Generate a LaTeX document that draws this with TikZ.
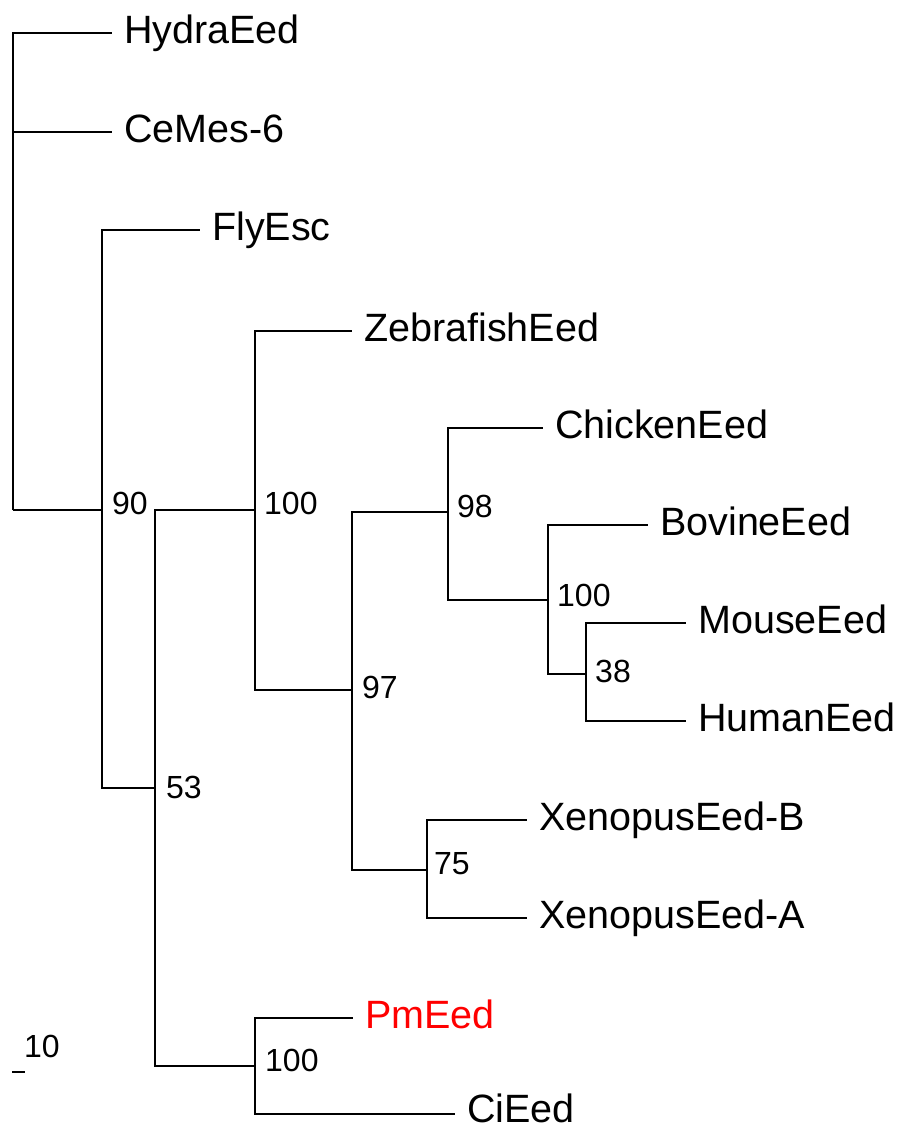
\documentclass[tikz,border=0pt]{standalone}
\usepackage{fontspec}
\setmainfont{Liberation Sans}
\begin{document}
\begin{tikzpicture}[x=1pt,y=-1pt,
  br/.style={line width=2.3pt},
  leaf/.style={anchor=west,inner xsep=12pt,inner ysep=0pt,text height=29pt,text depth=8pt,font=\fontsize{39.5}{41}\selectfont},
  boot/.style={anchor=base west,inner sep=0pt,font=\fontsize{32}{34}\selectfont}]
\useasboundingbox (0,0) rectangle (899,1132);
% internal nodes
\coordinate (root) at (13,510);
\coordinate (n90) at (102,510);
\coordinate (n53) at (155,788);
\coordinate (n100a) at (255,510);
\coordinate (n97) at (352,690);
\coordinate (n98) at (448,512);
\coordinate (n100b) at (548,600);
\coordinate (n38) at (586,674);
\coordinate (n75) at (427,870);
\coordinate (n100c) at (255,1066);
% leaves
\node[leaf] (hydra) at (112,33) {HydraEed};
\node[leaf] (cemes) at (112,132) {CeMes-6};
\node[leaf] (fly) at (200,230) {FlyEsc};
\node[leaf] (zebra) at (352,331) {ZebrafishEed};
\node[leaf] (chicken) at (543,428) {ChickenEed};
\node[leaf] (bovine) at (648,525) {BovineEed};
\node[leaf] (mouse) at (686,623) {MouseEed};
\node[leaf] (human) at (686,721) {HumanEed};
\node[leaf] (xenb) at (527,820) {XenopusEed-B};
\node[leaf] (xena) at (527,918) {XenopusEed-A};
\node[leaf,text=red] (pm) at (353,1018) {PmEed};
\node[leaf,text height=22pt,text depth=6pt] (ci) at (455,1114) {CiEed};
% branches
\draw[br] (root) |- (hydra.west);
\draw[br] (root) |- (cemes.west);
\draw[br] (root) -- (n90);
\draw[br] (n90) |- (fly.west);
\draw[br] (n90) |- (n53);
\draw[br] (n53) |- (n100a);
\draw[br] (n53) |- (n100c);
\draw[br] (n100a) |- (zebra.west);
\draw[br] (n100a) |- (n97);
\draw[br] (n97) |- (n98);
\draw[br] (n97) |- (n75);
\draw[br] (n98) |- (chicken.west);
\draw[br] (n98) |- (n100b);
\draw[br] (n100b) |- (bovine.west);
\draw[br] (n100b) |- (n38);
\draw[br] (n38) |- (mouse.west);
\draw[br] (n38) |- (human.west);
\draw[br] (n75) |- (xenb.west);
\draw[br] (n75) |- (xena.west);
\draw[br] (n100c) |- (pm.west);
\draw[br] (n100c) |- (ci.west);
% bootstrap values
\node[boot] (b90) at (112,514) {90};
\node[boot] (b100a) at (264,514) {100};
\node[boot] (b53) at (166,798) {53};
\node[boot] (b97) at (362,698) {97};
\node[boot] (b98) at (457,517) {98};
\node[boot] (b100b) at (557,606) {100};
\node[boot] (b38) at (595,682) {38};
\node[boot] (b75) at (434,874) {75};
\node[boot] (b100c) at (265,1071) {100};
% scale bar
\coordinate (s1) at (12,1072);
\coordinate (s2) at (25,1072);
\draw[br] (s1) -- (s2);
\node[boot] (sl) at (24,1057) {10};
\end{tikzpicture}
\end{document}
